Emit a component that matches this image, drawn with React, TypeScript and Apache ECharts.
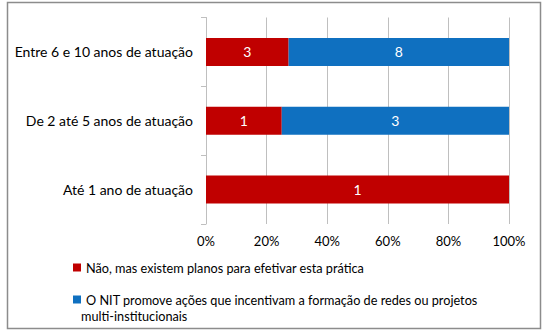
import React, { useEffect, useRef } from "react";
import * as echarts from "echarts";

const categories = ["Até 1 ano de atuação", "De 2 até 5 anos de atuação", "Entre 6 e 10 anos de atuação"];
const seriesNames = [
  "Não, mas existem planos para efetivar esta prática",
  "O NIT promove ações que incentivam a formação de redes ou projetos multi-institucionais",
];
const redCounts = [1, 1, 3];
const blueCounts = [0, 3, 8];
const tickLabels = ["0%", "20%", "40%", "60%", "80%", "100%"];

const FONT = "Lato";

export default function App() {
  const ref = useRef<HTMLDivElement>(null);
  useEffect(() => {
    document.body.style.margin = "0";
    const chart = echarts.init(ref.current!, null, { renderer: "svg" });
    const totals = redCounts.map((v, i) => v + blueCounts[i]);
    const mk = (counts: number[]) =>
      counts.map((c, i) => ({ value: (c / totals[i]) * 100, count: c }));
    const labelCfg = {
      show: true,
      position: "inside",
      color: "#ffffff",
      fontFamily: FONT,
      fontSize: 14,
      formatter: (p: any) => (p.data.count ? String(p.data.count) : ""),
    };
    chart.setOption({
      animation: false,
      backgroundColor: "#ffffff",
      textStyle: { fontFamily: FONT },
      grid: { left: 206, right: 37, top: 17.5, bottom: 107, containLabel: false },
      xAxis: {
        type: "value",
        min: 0,
        max: 100,
        interval: 20,
        axisLine: { show: false },
        axisTick: { show: false },
        splitLine: { show: true, lineStyle: { color: "#BFBFBF", width: 1 } },
        axisLabel: {
          color: "#000000",
          fontFamily: FONT,
          fontSize: 13,
          margin: 10,
          formatter: (v: number) => tickLabels[Math.round(v / 20)],
        },
      },
      yAxis: {
        type: "category",
        data: categories,
        axisLine: { show: true, lineStyle: { color: "#BFBFBF", width: 1 } },
        axisTick: { show: true, length: 5, lineStyle: { color: "#BFBFBF" } },
        axisLabel: { color: "#000000", fontFamily: FONT, fontSize: 14, margin: 13 },
      },
      legend: [
        {
          orient: "vertical",
          left: 68,
          top: 253,
          data: [seriesNames[0]],
          icon: "rect",
          itemWidth: 8,
          itemHeight: 8,
          textStyle: { fontFamily: FONT, fontSize: 12.7, color: "#000", lineHeight: 19 },
        },
        {
          orient: "vertical",
          left: 68,
          top: 285,
          data: [seriesNames[1]],
          icon: "rect",
          itemWidth: 8,
          itemHeight: 8,
          formatter: () => "O NIT promove ações que incentivam a formação de redes ou projetos",
          textStyle: { fontFamily: FONT, fontSize: 12.7, color: "#000", lineHeight: 19 },
        },
      ],
      graphic: [
        {
          type: "rect",
          shape: { x: 7.5, y: 2.5, width: 533, height: 326 },
          style: { fill: "none", stroke: "#8C8C8C", lineWidth: 1.5 },
          silent: true,
        },
        {
          type: "text",
          left: 81,
          top: 309,
          style: {
            text: "multi-institucionais",
            fontFamily: FONT,
            fontSize: 12.7,
            fill: "#000",
          },
        },
      ],
      series: [
        {
          name: seriesNames[0],
          type: "bar",
          stack: "total",
          barWidth: 28,
          data: mk(redCounts),
          itemStyle: { color: "#C00000" },
          label: labelCfg,
        },
        {
          name: seriesNames[1],
          type: "bar",
          stack: "total",
          barWidth: 28,
          data: mk(blueCounts),
          itemStyle: { color: "#0F70C0" },
          label: labelCfg,
        },
      ],
    });
    return () => chart.dispose();
  }, []);
  return <div ref={ref} style={{ position: "absolute", left: 0, top: 0, width: 546, height: 331 }} />;
}
